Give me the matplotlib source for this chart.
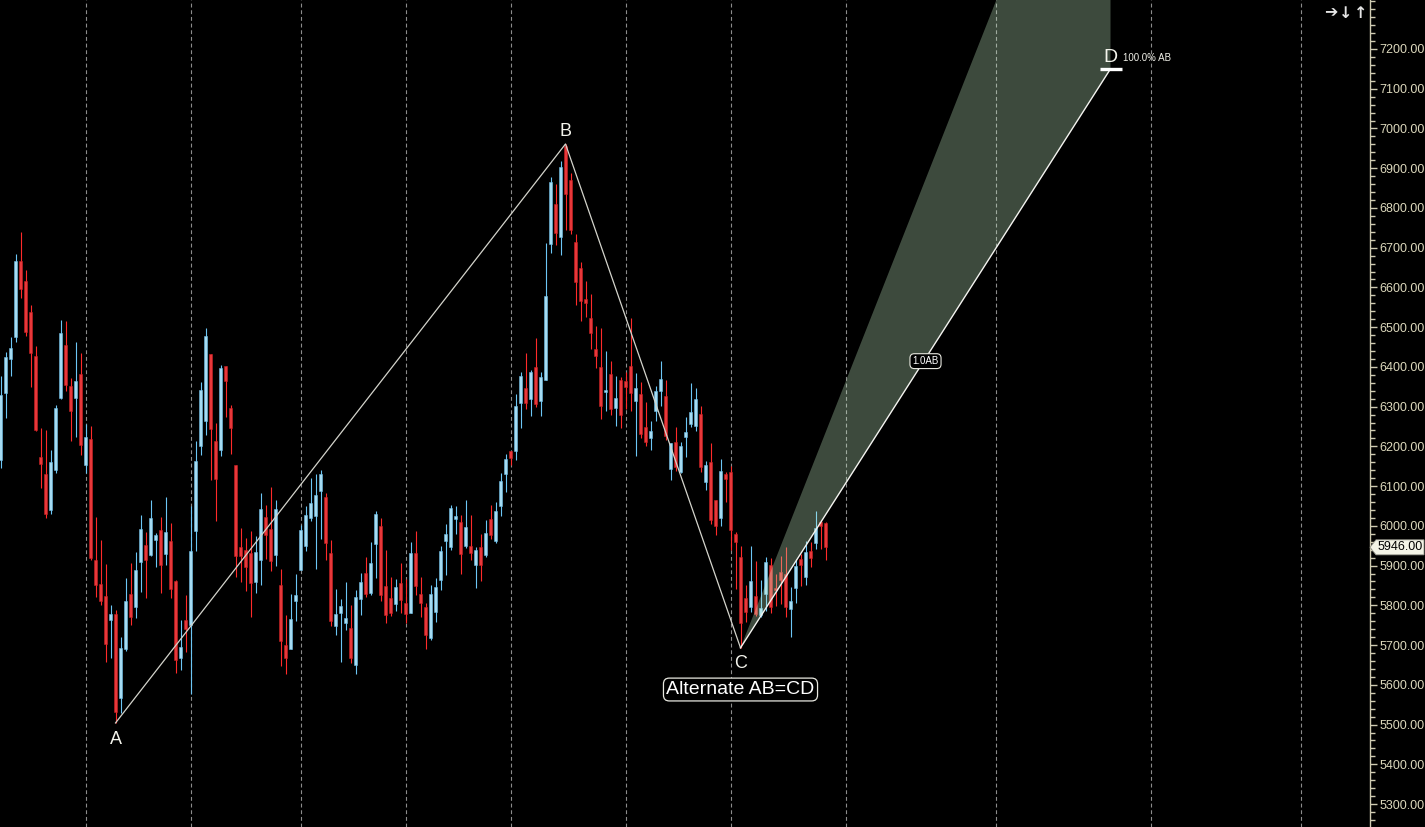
import matplotlib
matplotlib.use("Agg")
import matplotlib.pyplot as plt
import numpy as np
from matplotlib.patches import Polygon

plt.rcParams['font.family'] = ['Liberation Sans', 'DejaVu Sans']

# Daily OHLC prices
opens = [6166, 6335, 6421, 6474, 6667, 6616, 6538, 6427, 6173, 6130,
         6041, 6141, 6321, 6455, 6352, 6323, 6382, 6154, 6219, 5914,
         5854, 5824, 5763, 5778, 5566, 5689, 5829, 5797, 5910, 5952,
         5926, 5964, 5990, 5929, 5962, 5861, 5667, 5763, 5751, 5987,
         6201, 6264, 6432, 6214, 6191, 6402, 6297, 6153, 5947, 5939,
         5932, 5859, 5914, 6022, 5992, 5927, 5851, 5700, 5690, 5811,
         5889, 5949, 6020, 6025, 6088, 6073, 5932, 5748, 5781, 5756,
         5743, 5650, 5816, 5881, 5831, 5954, 6000, 5849, 5819, 5803,
         5856, 5806, 5781, 5932, 5829, 5796, 5718, 5783, 5864, 5962,
         5947, 6017, 6010, 5949, 5949, 5902, 5947, 5927, 6017, 5962,
         6050, 6130, 6188, 6188, 6309, 6347, 6319, 6400, 6314, 6367,
         6709, 6810, 6727, 6956, 6870, 6714, 6649, 6571, 6523, 6445,
         6400, 6337, 6382, 6297, 6367, 6365, 6402, 6314, 6332, 6249,
         6221, 6289, 6339, 6327, 6143, 6211, 6136, 6224, 6256, 6251,
         6282, 6110, 6161, 6065, 6020, 6130, 6136, 5980, 5922, 5819,
         5796, 5824, 5776, 5829, 5902, 5844, 5884, 5879, 5791, 5844,
         5917, 5871, 5937, 5957, 6010, 6007]
highs = [6377, 6438, 6475, 6684, 6739, 6644, 6556, 6453, 6246, 6240,
         6191, 6303, 6518, 6516, 6372, 6463, 6435, 6256, 6251, 6022,
         5964, 5904, 5801, 5788, 5720, 5869, 5906, 5934, 6027, 5985,
         6065, 5982, 6022, 6073, 6007, 5864, 5763, 5826, 6050, 6214,
         6362, 6498, 6432, 6259, 6405, 6402, 6304, 6153, 5995, 5969,
         5987, 5975, 6083, 6052, 6098, 6065, 5891, 5776, 5829, 5879,
         6002, 6050, 6120, 6130, 6141, 6083, 5964, 5841, 5816, 5859,
         5801, 5839, 5881, 5922, 5959, 6037, 6020, 5939, 5871, 5866,
         5907, 5866, 5959, 5987, 5871, 5806, 5851, 5869, 5949, 6005,
         6052, 6050, 6027, 6065, 6027, 5947, 5980, 6015, 6052, 6060,
         6133, 6181, 6188, 6332, 6387, 6435, 6392, 6473, 6387, 6712,
         6878, 6860, 6918, 6961, 6888, 6734, 6664, 6616, 6583, 6503,
         6498, 6440, 6415, 6377, 6375, 6387, 6523, 6385, 6362, 6312,
         6264, 6352, 6415, 6367, 6209, 6249, 6211, 6274, 6360, 6347,
         6302, 6163, 6209, 6065, 6168, 6136, 6151, 5985, 5949, 5851,
         5949, 5912, 5864, 5922, 5919, 5879, 5924, 5947, 5846, 5917,
         5929, 5962, 5959, 6037, 6015, 6010]
lows = [6146, 6272, 6377, 6463, 6574, 6479, 6350, 6239, 6096, 6021,
        6031, 6134, 6319, 6340, 6214, 6224, 6179, 6132, 5914, 5822,
        5801, 5658, 5668, 5504, 5528, 5684, 5751, 5767, 5834, 5818,
        5924, 5897, 5832, 5902, 5819, 5629, 5637, 5683, 5577, 5937,
        6178, 6229, 6115, 6012, 6176, 6274, 6181, 5871, 5859, 5836,
        5771, 5831, 5851, 5917, 5886, 5899, 5647, 5627, 5690, 5761,
        5889, 5937, 6012, 5891, 5967, 5914, 5748, 5725, 5657, 5738,
        5655, 5627, 5776, 5821, 5826, 5869, 5811, 5756, 5773, 5786,
        5781, 5756, 5781, 5826, 5771, 5690, 5713, 5758, 5839, 5876,
        5939, 5980, 5879, 5944, 5914, 5844, 5861, 5922, 5967, 5957,
        6025, 6085, 6153, 6166, 6246, 6294, 6277, 6299, 6277, 6367,
        6687, 6707, 6682, 6745, 6734, 6556, 6516, 6526, 6445, 6397,
        6269, 6289, 6279, 6251, 6246, 6294, 6289, 6176, 6221, 6201,
        6191, 6264, 6302, 6216, 6115, 6138, 6133, 6173, 6249, 6239,
        6136, 6090, 6005, 5977, 6000, 6060, 5939, 5841, 5693, 5758,
        5783, 5773, 5771, 5786, 5781, 5798, 5803, 5771, 5720, 5806,
        5849, 5851, 5897, 5942, 5942, 5914]
closes = [6329, 6426, 6448, 6667, 6596, 6489, 6436, 6241, 6155, 6031,
          6161, 6297, 6485, 6355, 6290, 6365, 6204, 6224, 5918, 5852,
          5812, 5703, 5778, 5532, 5692, 5811, 5771, 5889, 5992, 5914,
          6020, 5977, 5902, 5985, 5842, 5662, 5695, 5740, 5937, 6163,
          6342, 6478, 6244, 6118, 6397, 6365, 6246, 5924, 5924, 5897,
          5856, 5934, 6042, 5977, 5912, 6042, 5710, 5667, 5766, 5826,
          5990, 6027, 6058, 6078, 6130, 5957, 5761, 5778, 5798, 5768,
          5667, 5821, 5859, 5829, 5907, 6030, 5826, 5776, 5781, 5846,
          5814, 5778, 5932, 5849, 5806, 5725, 5829, 5846, 5937, 5980,
          6045, 6025, 5929, 5997, 5932, 5939, 5902, 5982, 5977, 6037,
          6113, 6168, 6171, 6302, 6377, 6309, 6387, 6307, 6375, 6578,
          6865, 6737, 6903, 6835, 6745, 6614, 6566, 6561, 6485, 6427,
          6302, 6342, 6294, 6322, 6279, 6350, 6334, 6347, 6231, 6211,
          6239, 6339, 6370, 6226, 6209, 6148, 6201, 6236, 6287, 6319,
          6148, 6153, 6015, 6000, 6138, 6118, 5990, 5959, 5756, 5783,
          5861, 5778, 5793, 5909, 5796, 5839, 5864, 5796, 5811, 5899,
          5902, 5934, 5919, 5995, 6000, 5946]

# Bar index of the first session of each month (incl. projected months)
month_starts = [17, 38, 60, 81, 102, 125, 146, 169, 199, 230, 260]

# Swing points of the AB=CD pattern (bar indices)
a_idx, b_idx, c_idx = 23, 113, 148
d_idx = 222
time_ratio_lo = 0.618

price_ticks = list(range(5300, 7201, 100))

opens = np.array(opens, float)
highs = np.array(highs, float)
lows = np.array(lows, float)
closes = np.array(closes, float)
x = np.arange(len(closes))

UP_BODY, UP_EDGE, UP_WICK = '#a6dcf3', '#6cbde6', '#6cc6f5'
DN_BODY, DN_EDGE, DN_WICK = '#e8383a', '#c81e22', '#ff2a2a'
AXIS_TXT = '#dcd8bc'

fig = plt.figure(figsize=(14.25, 8.27), dpi=100, facecolor='black')
ax = fig.add_axes([0, 0, 1370 / 1425, 1])
ax.set_facecolor('black')

ymin, ymax = 5242.2, 7323.3
ax.set_xlim(-0.1, 273.9)
ax.set_ylim(ymin, ymax)

# month separators
ax.set_xticks(month_starts)
ax.tick_params(axis='x', length=0, labelbottom=False, bottom=False)
ax.grid(axis='x', color='#8c8c8c', linestyle=(0, (3.5, 2.5)), linewidth=0.8)
ax.set_axisbelow(True)

# candles
up = closes >= opens
wick_c = np.where(up, UP_WICK, DN_WICK)
body_c = np.where(up, UP_BODY, DN_BODY)
edge_c = np.where(up, UP_EDGE, DN_EDGE)
ax.vlines(x, lows, highs, colors=wick_c, linewidth=0.8, zorder=2)
body_bottom = np.minimum(opens, closes)
body_h = np.maximum(np.abs(closes - opens), 2.5)
ax.bar(x, body_h, bottom=body_bottom, width=0.58, color=body_c,
       edgecolor=edge_c, linewidth=0.4, zorder=3)

# pattern points
A = lows[a_idx]
B = highs[b_idx]
C = lows[c_idx]
D = C + (B - A)

# projected CD zone (time window 0.618 .. 1.0 of the CD leg)
t_lo = c_idx + time_ratio_lo * (d_idx - c_idx)
slope_hi = (D - C) / (t_lo - c_idx)
t_top = c_idx + (ymax + 50 - C) / slope_hi
zone = Polygon([(c_idx, C), (t_top, ymax + 50), (d_idx, ymax + 50), (d_idx, D)],
               closed=True, facecolor='#ccf6cc', alpha=0.30, edgecolor='none',
               zorder=4)
ax.add_patch(zone)

ax.plot([a_idx, b_idx, c_idx], [A, B, C], color='#d4d4cc', linewidth=0.9, zorder=5)
ax.plot([c_idx, d_idx], [C, D], color='#f4f4f0', linewidth=1.0, zorder=5)
ax.plot([d_idx - 2.2, d_idx + 2.2], [D, D], color='white', linewidth=2.4,
        solid_capstyle='butt', zorder=6)

lbl = dict(color='#f4f4ec', fontsize=13, ha='center', zorder=7)
ax.annotate('A', (a_idx, A), xytext=(0, -6), textcoords='offset points', va='top', **lbl)
ax.annotate('B', (b_idx, B), xytext=(0, 3), textcoords='offset points', va='bottom', **lbl)
ax.annotate('C', (c_idx, C), xytext=(0, -5), textcoords='offset points', va='top', **lbl)
ax.annotate('D', (d_idx, D), xytext=(0, 2), textcoords='offset points', va='bottom',
            color='#f4f4ec', fontsize=14, ha='center', zorder=7)
ax.annotate('100.0% AB', (d_idx, D), xytext=(9, 8), textcoords='offset points',
            va='center', ha='left', color='#f0f0e8', fontsize=7, zorder=7)

ax.annotate('Alternate AB=CD', (c_idx, C), xytext=(0, -30), textcoords='offset points',
            va='center', ha='center', color='white', fontsize=14, zorder=7,
            bbox=dict(boxstyle='round,pad=0.15,rounding_size=0.3', fc='black',
                      ec='#e8e8e0', lw=0.9))
ax.annotate('1.0AB', ((c_idx + d_idx) / 2, (C + D) / 2), xytext=(0, -2),
            textcoords='offset points', ha='center', va='center',
            color='white', fontsize=7, zorder=7,
            bbox=dict(boxstyle='round,pad=0.25,rounding_size=0.45', fc='black',
                      ec='#e8e8e0', lw=0.8))

# right price scale
ax.yaxis.tick_right()
ax.set_yticks(price_ticks)
ax.set_yticklabels([f'{p:.2f}' for p in price_ticks])
ax.set_yticks(np.arange(5260, 7321, 20), minor=True)
ax.tick_params(axis='y', which='major', colors='#cfcbb2', labelcolor=AXIS_TXT,
               length=5, width=1, labelsize=9, pad=2)
ax.tick_params(axis='y', which='minor', colors='#cfcbb2', length=3.5, width=1)
for side in ['left', 'top', 'bottom']:
    ax.spines[side].set_visible(False)
ax.spines['right'].set_color('#cfcbb2')
ax.spines['right'].set_linewidth(1)

# last price tag
W, H = 1425.0, 827.0
last_px = ax.transData.transform((0, closes[-1]))[1]
tag = [(1370, last_px), (1376, last_px + 7.5), (1424, last_px + 7.5),
       (1424, last_px - 7.5), (1376, last_px - 7.5)]
fig.patches.append(Polygon([(px / W, py / H) for px, py in tag], closed=True,
                           transform=fig.transFigure, facecolor='#f3f3e6',
                           edgecolor='#9a9a90', linewidth=0.6, zorder=10))
fig.text(1400 / W, last_px / H, f'{closes[-1]:.2f}', ha='center', va='center',
         color='black', fontsize=9, zorder=11)

# navigation icons
for gx, sym in [(1331, '➔'), (1346, '↓'), (1361, '↑')]:
    fig.text(gx / W, 1 - 13 / H, sym, ha='center', va='center', color='#e4e4e4',
             fontsize=11.5, fontweight='bold', family=['DejaVu Sans'])

fig.savefig('out.png', dpi=100, facecolor='black')
